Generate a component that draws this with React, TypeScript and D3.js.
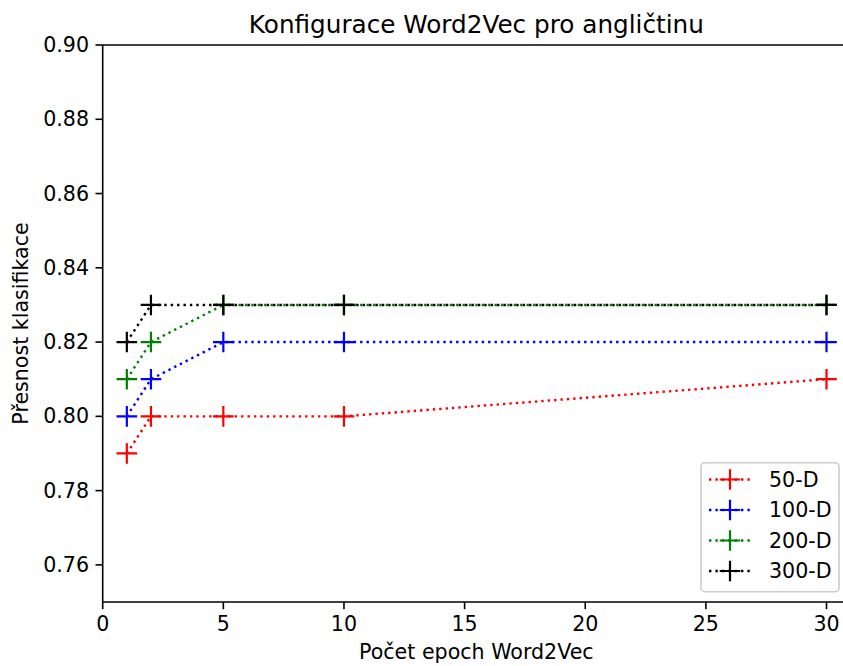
import React from "react";
import * as d3 from "d3";

const epochs = [1, 2, 5, 10, 30];
const seriesNames = ["50-D", "100-D", "200-D", "300-D"];
const seriesColors = ["#ff0000", "#0000ff", "#008000", "#000000"];
const acc50 = [0.79, 0.8, 0.8, 0.8, 0.81];
const acc100 = [0.8, 0.81, 0.82, 0.82, 0.82];
const acc200 = [0.81, 0.82, 0.83, 0.83, 0.83];
const acc300 = [0.82, 0.83, 0.83, 0.83, 0.83];
const xTicks = [0, 5, 10, 15, 20, 25, 30];
const yTicks = [0.76, 0.78, 0.8, 0.82, 0.84, 0.86, 0.88, 0.9];
const title = "Konfigurace Word2Vec pro angličtinu";
const xLabel = "Počet epoch Word2Vec";
const yLabel = "Přesnost klasifikace";

const W = 843;
const H = 666;
const L = 102.7;
const R = 850;
const T = 45;
const B = 602;
const FONT = "'DejaVu Sans', sans-serif";
const FS = 20.6;

export default function App() {
  const x = d3.scaleLinear().domain([0, 31]).range([L, L + 31 * 24.127]);
  const y = d3.scaleLinear().domain([0.75, 0.9]).range([B, T]);
  const all = [acc50, acc100, acc200, acc300];
  const line = d3
    .line<[number, number]>()
    .x((d) => x(d[0]))
    .y((d) => y(d[1]));
  const ms = 10.3;
  const plus = (cx: number, cy: number, color: string, key: string) => (
    <path
      key={key}
      d={`M${cx - ms},${cy}H${cx + ms}M${cx},${cy - ms}V${cy + ms}`}
      stroke={color}
      strokeWidth={2.2}
      fill="none"
    />
  );
  const legX = 701;
  const legY = 462.7;
  const legW = 138;
  const legH = 129;
  const rowY = [479.5, 510, 540.5, 571];
  const tickLen = 7.2;
  return (
    <svg
      width={W}
      height={H}
      style={{ position: "absolute", left: 0, top: 0, background: "#fff" }}
      fontFamily={FONT}
    >
      <rect x={0} y={0} width={W} height={H} fill="#fff" />
      <defs>
        <clipPath id="plot">
          <rect x={L} y={T} width={R - L} height={B - T} />
        </clipPath>
      </defs>
      <g clipPath="url(#plot)">
        {all.map((vals, i) => (
          <g key={seriesNames[i]}>
            <path
              d={line(epochs.map((e, j) => [e, vals[j]] as [number, number])) || ""}
              stroke={seriesColors[i]}
              strokeWidth={2.4}
              strokeDasharray="2.4 4"
              fill="none"
            />
            {epochs.map((e, j) => plus(x(e), y(vals[j]), seriesColors[i], `${i}-${j}`))}
          </g>
        ))}
      </g>
      {/* spines */}
      <line x1={L} y1={T} x2={L} y2={B} stroke="#000" strokeWidth={1.6} />
      <line x1={L} y1={B} x2={R} y2={B} stroke="#000" strokeWidth={1.6} />
      <line x1={L} y1={T} x2={R} y2={T} stroke="#000" strokeWidth={1.6} />
      <line x1={R} y1={T} x2={R} y2={B} stroke="#000" strokeWidth={1.6} />
      {/* y ticks */}
      {yTicks.map((t) => (
        <g key={"y" + t}>
          <line x1={L - tickLen} x2={L} y1={y(t)} y2={y(t)} stroke="#000" strokeWidth={1.6} />
          <text
            x={L - tickLen - 6.5}
            y={y(t)}
            textAnchor="end"
            dominantBaseline="central"
            fontSize={FS}
          >
            {t.toFixed(2)}
          </text>
        </g>
      ))}
      {/* x ticks */}
      {xTicks.map((t) => (
        <g key={"x" + t}>
          <line x1={x(t)} x2={x(t)} y1={B} y2={B + tickLen} stroke="#000" strokeWidth={1.6} />
          <text x={x(t)} y={B + tickLen + 7 + 15.2} textAnchor="middle" fontSize={FS}>
            {t}
          </text>
        </g>
      ))}
      <text x={(L + R) / 2} y={33} textAnchor="middle" fontSize={24.7}>
        {title}
      </text>
      <text x={(L + R) / 2} y={659} textAnchor="middle" fontSize={FS}>
        {xLabel}
      </text>
      <text
        transform={`translate(28,${(T + B) / 2}) rotate(-90)`}
        textAnchor="middle"
        fontSize={FS}
      >
        {yLabel}
      </text>
      {/* legend */}
      <rect
        x={legX}
        y={legY}
        width={legW}
        height={legH}
        rx={4}
        fill="#fff"
        fillOpacity={0.8}
        stroke="#cccccc"
        strokeWidth={1.6}
      />
      {seriesNames.map((n, i) => (
        <g key={"leg" + n}>
          <line
            x1={709}
            x2={751}
            y1={rowY[i]}
            y2={rowY[i]}
            stroke={seriesColors[i]}
            strokeWidth={2.4}
            strokeDasharray="2.4 4"
          />
          {plus(730, rowY[i], seriesColors[i], "lm" + i)}
          <text x={769} y={rowY[i]} dominantBaseline="central" fontSize={FS}>
            {n}
          </text>
        </g>
      ))}
    </svg>
  );
}
